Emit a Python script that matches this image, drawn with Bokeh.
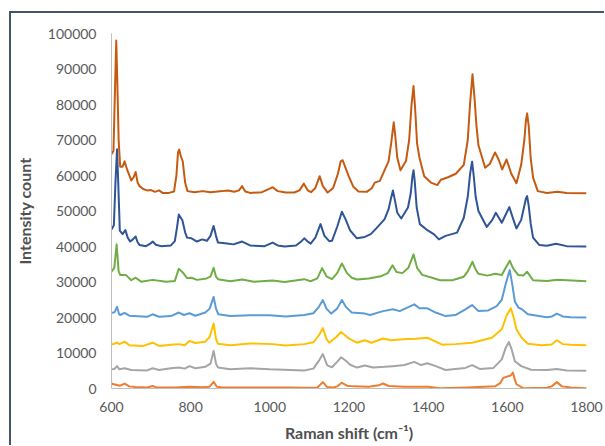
from bokeh.plotting import figure
from bokeh.models import Range1d, FixedTicker, BasicTickFormatter, Div
from bokeh.layouts import row, column
from bokeh.embed import file_html
from bokeh.resources import INLINE

# ---------------- data ----------------
x_ticks = [600, 800, 1000, 1200, 1400, 1600, 1800]
y_ticks = [0, 10000, 20000, 30000, 40000, 50000, 60000, 70000, 80000, 90000, 100000]

orange_x = [600, 606, 614, 622, 633, 645, 660, 690, 704, 715, 760, 797, 830, 848, 858, 866, 880, 950, 1000,
            1050, 1090, 1120, 1134, 1145, 1160, 1170, 1182, 1195, 1210, 1250, 1275, 1286, 1300, 1340, 1400,
            1430, 1500, 1569, 1582, 1590, 1604, 1609, 1614, 1619, 1623, 1640, 1700, 1712, 1725, 1738, 1760, 1800]
orange_y = [1400, 1200, 1000, 800, 1400, 600, 400, 300, 700, 250, 250, 500, 350, 500, 1900, 500, 300, 300, 300,
            250, 200, 300, 1800, 400, 300, 600, 1600, 800, 600, 500, 900, 1400, 700, 500, 500,
            100, 300, 600, 1500, 3000, 3500, 3700, 4500, 2500, 1200, 100, 200, 600, 1800, 600, 300, 100]

gray_x = [600, 607, 614, 620, 633, 650, 690, 704, 720, 750, 770, 785, 797, 812, 837, 850, 858, 864, 869, 900,
          950, 1000, 1087, 1110, 1125, 1134, 1145, 1157, 1170, 1180, 1192, 1203, 1220, 1240, 1261, 1290, 1311,
          1340, 1365, 1382, 1398, 1419, 1444, 1494, 1511, 1530, 1565, 1586, 1596, 1604, 1611, 1619, 1635, 1660,
          1700, 1725, 1750, 1800]
gray_y = [5400, 5500, 6300, 5400, 5700, 5200, 5100, 5700, 5200, 5700, 5900, 5600, 6300, 5700, 6100, 7000, 10600,
          7000, 5900, 5400, 5700, 5400, 5100, 5600, 8000, 9700, 6500, 6000, 7500, 8800, 7800, 6700, 5900, 6500,
          5900, 6100, 6300, 6600, 7500, 6600, 7100, 6300, 5200, 5800, 6600, 5500, 5800, 8200, 11500, 13100,
          11000, 7700, 6300, 5300, 5200, 5500, 5100, 5000]

yellow_x = [600, 607, 614, 620, 633, 645, 680, 704, 720, 750, 770, 785, 797, 812, 837, 848, 858, 864, 869, 900,
            950, 1007, 1040, 1087, 1110, 1124, 1134, 1143, 1150, 1168, 1180, 1190, 1199, 1220, 1240, 1257, 1286,
            1307, 1336, 1369, 1398, 1415, 1436, 1469, 1511, 1561, 1586, 1598, 1609, 1616, 1623, 1636, 1652, 1686,
            1712, 1725, 1740, 1760, 1800]
yellow_y = [12400, 12600, 12900, 12500, 13200, 12200, 12000, 12900, 12000, 12300, 12500, 12200, 13400, 12800,
            13200, 14500, 18300, 14000, 12600, 12200, 12700, 12500, 12100, 12500, 13000, 15000, 17000, 14000,
            12900, 14500, 15900, 15000, 14100, 12900, 13600, 12900, 14100, 13600, 13900, 14000, 14300, 13400,
            12300, 12500, 12900, 14300, 16700, 20500, 22600, 20000, 16700, 14300, 12600, 12200, 12400, 13600,
            12500, 12300, 12200]

lblue_x = [600, 608, 614, 619, 622, 633, 645, 690, 704, 720, 750, 770, 783, 797, 812, 837, 848, 858, 864, 870,
           900, 950, 1000, 1040, 1087, 1110, 1124, 1134, 1143, 1155, 1170, 1182, 1192, 1207, 1240, 1253, 1286,
           1311, 1328, 1365, 1378, 1398, 1419, 1444, 1469, 1494, 1511, 1527, 1552, 1573, 1586, 1596, 1606,
           1613, 1619, 1628, 1636, 1652, 1700, 1713, 1725, 1740, 1760, 1800]
lblue_y = [21300, 21500, 23000, 21000, 20700, 21300, 20500, 20200, 20900, 20200, 20400, 21400, 20700, 21200,
           20500, 21400, 22500, 25800, 22500, 20900, 20400, 20600, 20600, 20300, 20700, 21200, 23000, 24900,
           22500, 21100, 22500, 24900, 23000, 21400, 21100, 20700, 21800, 22300, 21800, 23700, 22600, 22600,
           21400, 20400, 20700, 22300, 23500, 21800, 22000, 23200, 25000, 29500, 33400, 29000, 24500, 22800,
           22400, 20900, 20100, 20300, 21100, 20300, 20100, 20000]

green_x = [600, 607, 613, 618, 622, 636, 650, 661, 675, 704, 738, 760, 770, 780, 791, 802, 816, 840, 850, 858,
           864, 869, 900, 930, 960, 1007, 1037, 1087, 1103, 1120, 1132, 1144, 1157, 1170, 1182, 1195, 1207, 1220,
           1250, 1280, 1298, 1310, 1320, 1335, 1350, 1363, 1372, 1385, 1410, 1430, 1461, 1490, 1500, 1512, 1520,
           1527, 1550, 1569, 1586, 1596, 1606, 1614, 1627, 1640, 1650, 1657, 1665, 1700, 1727, 1800]
green_y = [32900, 34000, 40600, 33000, 32000, 32000, 30500, 31200, 30100, 30600, 30100, 30300, 33700, 32700,
           31100, 31200, 30600, 31000, 31500, 34000, 31500, 30800, 30200, 30700, 30100, 30400, 30000, 30800,
           30200, 31000, 33900, 31500, 30800, 32500, 35200, 32500, 31200, 30700, 31000, 31600, 32500, 34700,
           32800, 32500, 34000, 37800, 34000, 32000, 31200, 30500, 30500, 31500, 33000, 35700, 33500, 32300,
           31800, 32300, 32000, 34000, 36000, 34000, 32000, 31800, 32900, 31800, 30500, 30300, 30600, 30200]

dblue_x = [600, 606, 610, 614, 617, 621, 628, 635, 641, 647, 654, 661, 666, 671, 687, 698, 704, 712, 725, 750,
           760, 765, 770, 779, 786, 791, 802, 816, 829, 841, 850, 858, 864, 869, 887, 908, 930, 950, 987, 1007,
           1020, 1037, 1066, 1080, 1087, 1095, 1103, 1115, 1128, 1138, 1150, 1157, 1170, 1182, 1192, 1203, 1220,
           1240, 1255, 1269, 1290, 1300, 1306, 1311, 1316, 1322, 1332, 1349, 1356, 1360, 1363, 1366, 1371, 1379,
           1398, 1415, 1427, 1444, 1473, 1490, 1500, 1506, 1511, 1515, 1520, 1527, 1548, 1562, 1571, 1586, 1596,
           1605, 1614, 1623, 1635, 1643, 1647, 1650, 1654, 1659, 1665, 1681, 1700, 1723, 1750, 1800]
dblue_y = [44800, 46000, 58000, 67400, 58000, 44500, 43500, 44600, 42500, 41400, 42000, 42800, 41200, 40400,
           40100, 40800, 41400, 40500, 40100, 40300, 41500, 45000, 49000, 47400, 44000, 42500, 42300, 41400,
           42000, 41600, 43000, 45800, 43000, 41100, 40900, 40600, 41400, 40300, 40100, 41100, 40300, 40000,
           40300, 41500, 42300, 41500, 40800, 42500, 46300, 43000, 41500, 41600, 45500, 49800, 47500, 44500,
           42300, 42700, 43500, 45100, 47700, 50500, 53500, 55800, 53000, 49500, 47900, 51000, 55000, 59500,
           61500, 58500, 51000, 46300, 44600, 43400, 42000, 43000, 43900, 48100, 54000, 60500, 63900, 60000,
           54000, 50000, 45500, 47500, 49500, 46700, 49000, 51100, 48000, 45100, 47500, 51500, 53500, 54200,
           51500, 46500, 42500, 40400, 40200, 40800, 40100, 40000]

brown_x = [600, 605, 609, 612, 615, 618, 622, 628, 633, 640, 650, 656, 661, 666, 671, 680, 690, 700, 710, 720,
           729, 745, 758, 764, 768, 771, 775, 780, 786, 792, 810, 830, 850, 880, 894, 910, 922, 930, 938, 950,
           980, 1000, 1007, 1020, 1040, 1062, 1075, 1086, 1096, 1104, 1115, 1126, 1134, 1146, 1160, 1172, 1179,
           1184, 1190, 1199, 1211, 1224, 1245, 1258, 1265, 1278, 1290, 1300, 1307, 1313, 1317, 1322, 1330, 1344,
           1352, 1358, 1363, 1367, 1372, 1378, 1390, 1407, 1423, 1432, 1450, 1470, 1490, 1500, 1506, 1512, 1517,
           1522, 1527, 1544, 1556, 1569, 1578, 1587, 1598, 1610, 1623, 1635, 1643, 1647, 1650, 1654, 1659, 1665,
           1677, 1700, 1727, 1750, 1800]
brown_y = [66000, 67000, 85000, 98000, 85000, 70000, 62500, 62500, 64000, 61500, 58600, 59500, 61000, 58000,
           57000, 56200, 55800, 55900, 55400, 55800, 55100, 55100, 55500, 60000, 66500, 67300, 65500, 64000,
           58000, 55600, 55300, 55600, 55300, 55600, 55800, 55400, 55800, 57000, 55500, 55100, 55300, 56300,
           56700, 55600, 55200, 55200, 55800, 57700, 55800, 55300, 56500, 59800, 57000, 55200, 56500, 60500,
           64000, 64300, 62500, 59900, 56800, 55500, 55400, 56500, 58000, 58500, 61500, 64000, 69500, 75000,
           71000, 65000, 61500, 64100, 70000, 80000, 85200, 79000, 69000, 65000, 59800, 58000, 57300, 58800,
           59500, 60500, 63000, 70000, 80500, 88500, 82000, 74000, 68500, 62200, 63300, 66500, 64500, 61700,
           64500, 60500, 57800, 63000, 70000, 75500, 77500, 74000, 65000, 59400, 55600, 55100, 55400, 55100,
           55000]

series = [
    (orange_x, orange_y, "#ED7D31"),
    (gray_x, gray_y, "#A5A5A5"),
    (yellow_x, yellow_y, "#FFC000"),
    (lblue_x, lblue_y, "#5B9BD5"),
    (green_x, green_y, "#70AD47"),
    (dblue_x, dblue_y, "#2F5597"),
    (brown_x, brown_y, "#C55A11"),
]

# ---------------- figure ----------------
p = figure(width=593, height=432,
           x_range=Range1d(600, 1800), y_range=Range1d(0, 100000),
           output_backend="svg", toolbar_location=None,
           min_border_left=94, min_border_right=18, min_border_top=20, min_border_bottom=57)

p.outline_line_color = None
p.background_fill_color = "white"
p.border_fill_color = "white"
p.grid.visible = False

for xs, ys, c in series:
    p.line(xs, ys, line_color=c, line_width=2, line_join="round")

font = "Lato"
for ax in (p.xaxis[0], p.yaxis[0]):
    ax.axis_line_color = "#BFBFBF"
    ax.axis_line_width = 1
    ax.major_tick_line_color = None
    ax.minor_tick_line_color = None
    ax.major_tick_out = 0
    ax.major_tick_in = 0
    ax.major_label_text_font = font
    ax.major_label_text_font_size = "14px"
    ax.major_label_text_color = "#595959"
    ax.axis_label_text_font = font
    ax.axis_label_text_font_size = "16px"
    ax.axis_label_text_font_style = "bold"
    ax.axis_label_text_color = "#505050"

p.xaxis.ticker = FixedTicker(ticks=x_ticks)
p.yaxis.ticker = FixedTicker(ticks=y_ticks)
p.yaxis.formatter = BasicTickFormatter(use_scientific=False)
p.xaxis.major_label_standoff = 13
p.yaxis.major_label_standoff = 15
p.xaxis.axis_label = "Raman shift (cm\u207b\u00b9)"
p.yaxis.axis_label = "Intensity count"
p.xaxis.axis_label_standoff = 8
p.yaxis.axis_label_standoff = 11

# chart-area border (only its left and top edges fall inside the picture)
border = {"background-color": "#44546A"}
left_bar = Div(text="", width=2, height=434, margin=(11, 0, 0, 9), styles=border)
top_bar = Div(text="", width=593, height=2, margin=(11, 0, 0, 0), styles=border)
page = row(left_bar, column(top_bar, p, spacing=0), spacing=0)

open("out.html", "w").write(file_html(page, INLINE))
